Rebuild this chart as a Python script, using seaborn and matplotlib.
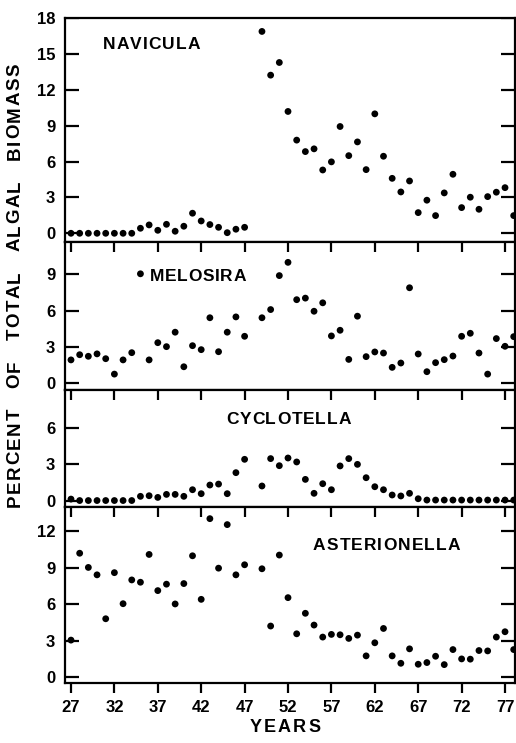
import numpy as np
import pandas as pd
import matplotlib
matplotlib.use("Agg")
import matplotlib.pyplot as plt
import seaborn as sns
from matplotlib.textpath import TextToPath
from matplotlib.font_manager import FontProperties

# Years sampled (no sample in 1948)
years = list(range(1927, 1948)) + list(range(1949, 1979))

navicula = [0, 0, 0, 0, 0, 0, 0, 0, 0.42, 0.7, 0.25, 0.75, 0.17, 0.59, 1.68, 1.03,
            0.73, 0.5, 0.05, 0.34, 0.5,
            16.9, 13.24, 14.3, 10.2, 7.8, 6.84, 7.07, 5.3, 5.98, 8.94,
            6.5, 7.65, 5.33, 10.0, 6.45, 4.6, 3.46, 4.38, 1.73, 2.77,
            1.48, 3.38, 4.94, 2.15, 3.02, 2.01, 3.07, 3.44, 3.82, 1.48]

melosira = [1.9, 2.33, 2.2, 2.4, 2.0, 0.72, 1.9, 2.5, 9.05, 1.9, 3.33, 3.0, 4.2,
            1.33, 3.08, 2.75, 5.4, 2.58, 4.2, 5.47, 3.86,
            5.4, 6.08, 8.9, 10.0, 6.9, 7.03, 5.94, 6.64, 3.89, 4.36,
            1.94, 5.53, 2.17, 2.56, 2.47, 1.28, 1.64, 7.89, 2.39, 0.92,
            1.67, 1.92, 2.22, 3.86, 4.11, 2.47, 0.72, 3.67, 3.03, 3.83]

cyclotella = [0.12, 0, 0, 0, 0, 0, 0, 0, 0.35, 0.4, 0.26, 0.51, 0.51, 0.35, 0.9,
              0.57, 1.29, 1.37, 0.57, 2.32, 3.43,
              1.21, 3.49, 2.9, 3.54, 3.21, 1.76, 0.6, 1.4, 0.9, 2.88,
              3.49, 3.01, 1.9, 1.15, 0.9, 0.46, 0.38, 0.6, 0.15,
              0.04, 0.04, 0.04, 0.04, 0.04, 0.04, 0.04, 0.04, 0.04, 0.04, 0.04]

asterionella = [3.04, 10.2, 9.03, 8.42, 4.8, 8.6, 6.04, 8.0, 7.81, 10.1, 7.12,
                7.65, 6.02, 7.7, 9.99, 6.4, 13.05, 8.97, 12.56, 8.42, 9.25,
                8.92, 4.2, 10.05, 6.54, 3.56, 5.25, 4.28, 3.29, 3.51, 3.48,
                3.18, 3.45, 1.74, 2.82, 4.0, 1.74, 1.13, 2.32, 1.05, 1.19,
                1.71, 1.02, 2.26, 1.49, 1.47, 2.18, 2.15, 3.29, 3.73, 2.26]

taxa = ["NAVICULA", "MELOSIRA", "CYCLOTELLA", "ASTERIONELLA"]
series = [navicula, melosira, cyclotella, asterionella]
yticks = [[0, 3, 6, 9, 12, 15, 18], [0, 3, 6, 9], [0, 3, 6], [0, 3, 6, 9, 12]]
ylims = [(-0.73, 18), (-0.6, 11.69), (-0.58, 9.2), (-0.52, 13.97)]
xtick_years = list(range(1927, 1978, 5))
xtick_labels = ["27", "32", "37", "42", "47", "52", "57", "62", "67", "72", "77"]

df = pd.concat(
    [pd.DataFrame({"year": years, "pct": vals, "taxon": name})
     for name, vals in zip(taxa, series)],
    ignore_index=True)

sns.set_style("ticks")
plt.rcParams.update({
    "font.family": ["Liberation Sans", "DejaVu Sans"],
    "font.weight": "bold",
    "axes.linewidth": 1.6,
    "axes.edgecolor": "black",
})

W, H = 516, 743
Y_TICK_PX = 14.0   # inward ticks on the left and right spines
X_TICK_PX = 9.7    # ticks on the top / bottom spines
TICK_LW = 1.6

fig = plt.figure(figsize=(W / 100, H / 100), dpi=100)
gs = fig.add_gridspec(4, 1, height_ratios=[223.7, 148, 117.5, 175.8], hspace=0,
                      left=65 / W, right=515 / W, top=1 - 18.3 / H, bottom=1 - 683.3 / H)
axes = [fig.add_subplot(gs[i]) for i in range(4)]

for i, (ax, name) in enumerate(zip(axes, taxa)):
    sub = df[df["taxon"] == name]
    sns.scatterplot(data=sub, x="year", y="pct", ax=ax, color="black", s=24,
                    edgecolor="none", linewidth=0, legend=False, zorder=3)
    ax.set_xlim(1926.31, 1978.15)
    ax.set_ylim(*ylims[i])
    ax.set_autoscale_on(False)
    ax.set_yticks(yticks[i])
    ax.set_yticklabels([str(v) for v in yticks[i]], fontsize=12, fontweight="bold")
    ax.set_xticks(xtick_years)
    ax.set_xlabel("")
    ax.set_ylabel("")
    for sp in ax.spines.values():
        sp.set_visible(True)
        sp.set_color("black")

    # tick labels from the axis machinery; tick strokes drawn as segments below
    ax.tick_params(axis="y", which="major", left=True, right=False, direction="in",
                   length=0, pad=7, labelcolor="black")
    last = i == 3
    if last:
        ax.set_xticklabels(xtick_labels, fontsize=12, fontweight="bold")
        ax.tick_params(axis="x", which="major", bottom=True, top=False, labelbottom=True,
                       direction="in", length=0, pad=12, labelcolor="black")
    else:
        ax.tick_params(axis="x", which="major", bottom=False, top=False,
                       labelbottom=False, length=0)

    pos = ax.get_position()
    w_px, h_px = pos.width * W, pos.height * H
    fy = Y_TICK_PX / w_px
    fx = X_TICK_PX / h_px
    ytr = ax.get_yaxis_transform()
    xtr = ax.get_xaxis_transform()
    seg_kw = dict(colors="black", linewidths=TICK_LW, capstyle="butt", zorder=4)
    ax.hlines(yticks[i], 0, fy, transform=ytr, **seg_kw)
    ax.hlines(yticks[i], 1 - fy, 1, transform=ytr, **seg_kw)
    if i > 0:
        ax.vlines(xtick_years, 1 - fx, 1, transform=xtr, **seg_kw)
    if last:
        ax.vlines(xtick_years, -fx, 0, transform=xtr, clip_on=False, **seg_kw)
    ax.set_xlim(1926.31, 1978.15)
    ax.set_ylim(*ylims[i])

_t2p = TextToPath()


def tracked_text(x_px, y_px, s, size, track_px, word_gap_px=None, rotation=0, ha="center"):
    """Draw letter-spaced text; x_px, y_px in figure pixels from the top-left."""
    prop = FontProperties(family="Liberation Sans", weight="bold", size=size)
    k = fig.dpi / 72.0
    widths = []
    for ch in s:
        if ch == " " and word_gap_px is not None:
            widths.append(word_gap_px - track_px)
        else:
            w, _, _ = _t2p.get_text_width_height_descent(ch, prop, ismath=False)
            widths.append(w * k)
    total = sum(widths) + track_px * (len(s) - 1)
    pos = -total / 2 if ha == "center" else 0.0
    for ch, w in zip(s, widths):
        if ch != " ":
            if rotation == 0:
                fig.text((x_px + pos) / W, 1 - y_px / H, ch, fontproperties=prop,
                         ha="left", va="center", color="black")
            else:
                fig.text(x_px / W, 1 - (y_px - pos) / H, ch, fontproperties=prop,
                         rotation=90, rotation_mode="anchor",
                         ha="left", va="center", color="black")
        pos += w + track_px


# Taxon names inside each panel
tracked_text(103, 44.5, "NAVICULA", 12.5, 1.0, ha="left")
tracked_text(150, 276.7, "MELOSIRA", 12.5, 0.6, ha="left")
tracked_text(226, 419.7, "CYCLOTELLA", 12.5, 0.9, ha="left")
tracked_text(313, 545, "ASTERIONELLA", 12.5, 1.1, ha="left")

# Axis titles
tracked_text(285, 727, "YEARS", 13, 2.0)
tracked_text(15, 285, "PERCENT OF TOTAL ALGAL BIOMASS", 13.5, 1.5, word_gap_px=19, rotation=90)

fig.savefig("out.png", dpi=100)
